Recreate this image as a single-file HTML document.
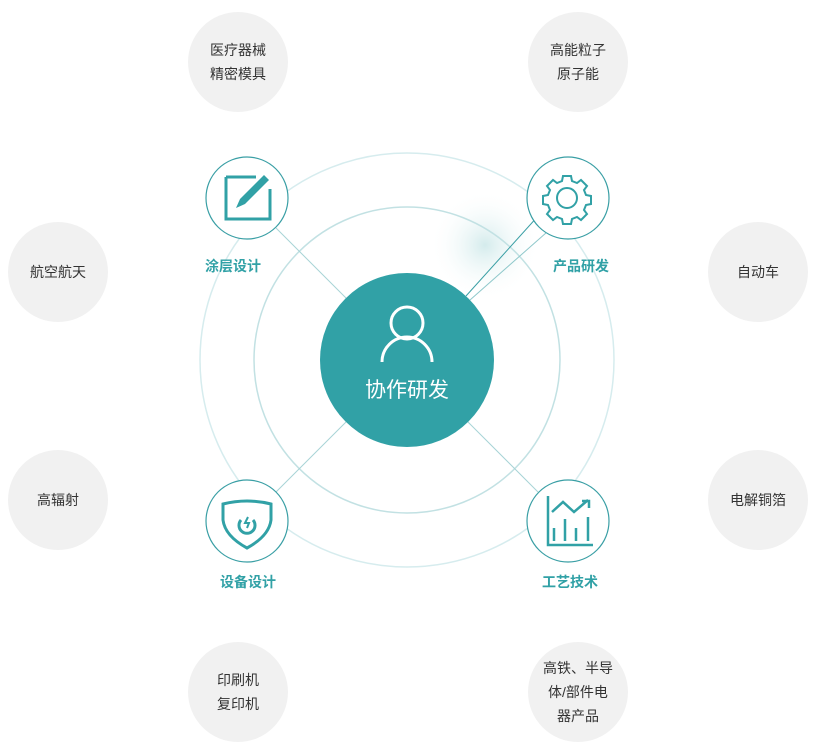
<!DOCTYPE html>
<html><head><meta charset="utf-8"><style>
body{margin:0;background:#fff;}
svg text{font-family:"Liberation Sans","Noto Sans CJK SC",sans-serif;}
</style></head><body>
<svg width="813" height="751" viewBox="0 0 813 751" xmlns="http://www.w3.org/2000/svg">
<defs>
<radialGradient id="g1" cx="0.5" cy="0.5" r="0.5">
<stop offset="0" stop-color="#cfe9ea" stop-opacity="0.9"/>
<stop offset="1" stop-color="#ffffff" stop-opacity="0"/>
</radialGradient>
</defs>
<!-- glow -->
<ellipse cx="485" cy="245" rx="55" ry="55" fill="url(#g1)"/>
<!-- rings -->
<circle cx="407" cy="360" r="207" fill="none" stroke="#d6ecee" stroke-width="1.5"/>
<circle cx="407" cy="360" r="153" fill="none" stroke="#c2e1e3" stroke-width="1.5"/>
<!-- connectors -->
<line x1="276" y1="228" x2="346" y2="298" stroke="#a8d4d6" stroke-width="1"/>
<line x1="276" y1="492" x2="346" y2="422" stroke="#a8d4d6" stroke-width="1"/>
<line x1="538" y1="492" x2="468" y2="422" stroke="#a8d4d6" stroke-width="1"/>
<line x1="548" y1="205" x2="466" y2="296" stroke="#3a9fa5" stroke-width="1"/>
<line x1="555" y1="225" x2="470" y2="300" stroke="#8fc8cb" stroke-width="1"/>
<!-- center -->
<circle cx="407" cy="360" r="87" fill="#31a1a6"/>
<circle cx="407" cy="323" r="16" fill="none" stroke="#fff" stroke-width="3"/>
<path d="M382 362 a25 25 0 0 1 50 0" fill="none" stroke="#fff" stroke-width="3"/>
<text x="407" y="397" text-anchor="middle" font-size="21" fill="#fff">协作研发</text>
<!-- icon circles -->
<g fill="#fff" stroke="#3a9fa5" stroke-width="1.2">
<circle cx="247" cy="198" r="41"/>
<circle cx="568" cy="198" r="41"/>
<circle cx="247" cy="521" r="41"/>
<circle cx="568" cy="521" r="41"/>
</g>
<!-- edit icon -->
<path d="M226 177 h30 M226 177 v42 h44 v-30" fill="none" stroke="#31a1a6" stroke-width="3"/>
<path d="M236 208 l4 -9 l24 -24 l5 5 l-24 24 z" fill="#31a1a6"/>
<!-- gear -->
<g transform="translate(567,198)" fill="none" stroke="#31a1a6" stroke-width="2">
<circle r="10"/>
<path d="M-4 -22 h8 l1 5 l5 2 l4 -3 l6 6 l-3 4 l2 5 l5 1 v8 l-5 1 l-2 5 l3 4 l-6 6 l-4 -3 l-5 2 l-1 5 h-8 l-1 -5 l-5 -2 l-4 3 l-6 -6 l3 -4 l-2 -5 l-5 -1 v-8 l5 -1 l2 -5 l-3 -4 l6 -6 l4 3 l5 -2 z"/>
</g>
<!-- shield -->
<g fill="none" stroke="#31a1a6" stroke-width="3">
<path d="M223 504 q12 -3 24 -3 q12 0 24 3 v16 q-2 16 -24 28 q-22 -12 -24 -28 z"/>
<path d="M241 520 a8 8 0 1 0 12 0" />
<path d="M248 517 l-3 6 h4 l-2 5" stroke-width="2"/>
</g>
<!-- chart -->
<g fill="none" stroke="#31a1a6" stroke-width="2.5">
<path d="M548 496 v49 h45"/>
<path d="M552 512 l11 -10 l11 10 l14 -12"/>
<path d="M582 501 h7 v7"/>
<path d="M554 528 v13 M565 519 v22 M576 528 v13 M588 517 v24"/>
</g>
<!-- labels -->
<g font-size="14" font-weight="bold" fill="#31a1a6" text-anchor="middle">
<text x="233" y="271">涂层设计</text>
<text x="581" y="271">产品研发</text>
<text x="248" y="587">设备设计</text>
<text x="570" y="587">工艺技术</text>
</g>
<!-- gray circles -->
<g fill="#f1f1f1">
<circle cx="238" cy="62" r="50"/><circle cx="578" cy="62" r="50"/>
<circle cx="58" cy="272" r="50"/><circle cx="758" cy="272" r="50"/>
<circle cx="58" cy="500" r="50"/><circle cx="758" cy="500" r="50"/>
<circle cx="238" cy="692" r="50"/><circle cx="578" cy="692" r="50"/>
</g>
<g font-size="14" fill="#333" text-anchor="middle">
<text x="238" y="55">医疗器械</text><text x="238" y="79">精密模具</text>
<text x="578" y="55">高能粒子</text><text x="578" y="79">原子能</text>
<text x="58" y="277">航空航天</text>
<text x="758" y="277">自动车</text>
<text x="58" y="505">高辐射</text>
<text x="758" y="505">电解铜箔</text>
<text x="238" y="685">印刷机</text><text x="238" y="709">复印机</text>
<text x="578" y="673">高铁、半导</text><text x="578" y="697">体/部件电</text><text x="578" y="721">器产品</text>
</g>
</svg>
</body></html>
